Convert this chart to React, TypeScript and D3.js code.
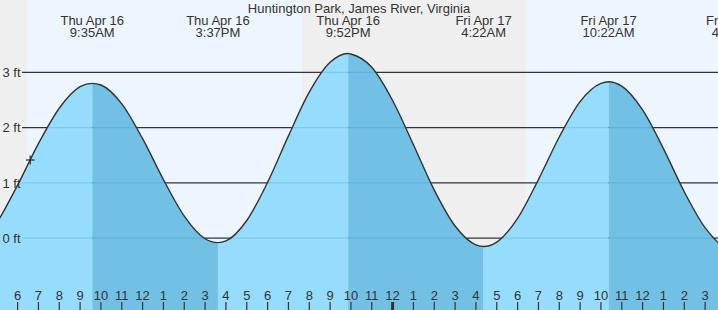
import React from "react";
import * as d3 from "d3";

// Tide curve samples: hours since midnight Thu Apr 16, heights in ft
const sampleHours = [4, 5, 6, 7, 8, 9, 9.583, 10, 11, 12, 13, 14, 15, 15.617, 16, 17, 18, 19, 20, 21, 21.867, 22, 23, 24, 25, 26, 27, 28, 28.367, 29, 30, 31, 32, 33, 34, 34.367, 35, 36, 37, 38, 39, 40, 40.4, 41];
const sampleHeights = [-0.16, 0.28, 0.96, 1.71, 2.35, 2.74, 2.8, 2.77, 2.43, 1.8, 1.06, 0.4, -0.01, -0.08, -0.05, 0.32, 1.01, 1.85, 2.64, 3.18, 3.34, 3.33, 3.09, 2.49, 1.69, 0.87, 0.22, -0.12, -0.15, -0.07, 0.36, 1.06, 1.83, 2.47, 2.8, 2.83, 2.75, 2.32, 1.62, 0.84, 0.19, -0.17, -0.2, -0.15];

// High / low tide extremes
const extremeHours = [9.583, 15.617, 21.867, 28.367, 34.367, 40.4];
const extremeTypes = ["high", "low", "high", "low", "high", "low"];
const extremeDays = ["Thu Apr 16", "Thu Apr 16", "Thu Apr 16", "Fri Apr 17", "Fri Apr 17", "Fri Apr 17"];
const extremeTimes = ["9:35AM", "3:37PM", "9:52PM", "4:22AM", "10:22AM", "4:24PM"];

// Daylight periods (hours since midnight Thu)
const dayStarts = [6.44, 30.39];
const dayEnds = [19.64, 43.6];

// Axis ticks
const hourTicks = [6, 7, 8, 9, 10, 11, 12, 13, 14, 15, 16, 17, 18, 19, 20, 21, 22, 23, 24, 25, 26, 27, 28, 29, 30, 31, 32, 33, 34, 35, 36, 37, 38, 39];
const hourLabels = ["6", "7", "8", "9", "10", "11", "12", "1", "2", "3", "4", "5", "6", "7", "8", "9", "10", "11", "12", "1", "2", "3", "4", "5", "6", "7", "8", "9", "10", "11", "12", "1", "2", "3"];
const ftTicks = [0, 1, 2, 3];
const ftLabels = ["0 ft", "1 ft", "2 ft", "3 ft"];

const title = "Huntington Park, James River, Virginia";

const W = 718;
const H = 310;

export default function App() {
  const x = d3.scaleLinear().domain([6, 39]).range([17.6, 17.6 + 33 * (500 / 24)]);
  const y = d3.scaleLinear().domain([0, 3]).range([238.2, 72.3]);
  const pts: [number, number][] = sampleHours.map((h, i) => [h, sampleHeights[i]]);
  const area = d3
    .area<[number, number]>()
    .x((d) => x(d[0]))
    .y0(H)
    .y1((d) => y(d[1]))
    .curve(d3.curveMonotoneX)(pts) as string;
  const line = d3
    .line<[number, number]>()
    .x((d) => x(d[0]))
    .y((d) => y(d[1]))
    .curve(d3.curveMonotoneX)(pts) as string;

  // segments between extremes: falling (high->low) dark, rising light
  const bounds = [sampleHours[0], ...extremeHours, sampleHours[sampleHours.length - 1]];
  const segs = bounds.slice(0, -1).map((b, i) => {
    const prevType = i === 0 ? "low" : extremeTypes[i - 1];
    return { t0: b, t1: bounds[i + 1], falling: prevType === "high" };
  });

  const font = "'Liberation Sans', Arial, sans-serif";
  const textColor = "#333";

  return (
    <svg
      width={W}
      height={H}
      style={{ position: "absolute", left: 0, top: 0, display: "block" }}
      fontFamily={font}
    >
      <defs>
        <clipPath id="tideClip">
          <path d={area} />
        </clipPath>
      </defs>
      <rect x={0} y={0} width={W} height={H} fill="#efefef" />
      {dayStarts.map((s, i) => (
        <rect key={"day" + i} x={x(s)} y={0} width={x(dayEnds[i]) - x(s)} height={H} fill="#edf6fe" />
      ))}
      {ftTicks.map((f) => (
        <line key={"g" + f} x1={22} x2={W} y1={y(f)} y2={y(f)} stroke="#333" strokeWidth={1.3} />
      ))}
      <g clipPath="url(#tideClip)">
        {segs.map((s, i) => (
          <rect
            key={"s" + i}
            x={x(s.t0)}
            y={0}
            width={x(s.t1) - x(s.t0)}
            height={H}
            fill={s.falling ? "#72c1e5" : "#96dcfd"}
          />
        ))}
        {ftTicks.map((f) => (
          <line key={"gi" + f} x1={22} x2={W} y1={y(f)} y2={y(f)} stroke="rgba(30,120,180,0.2)" strokeWidth={1.3} />
        ))}
      </g>
      <path d={line} fill="none" stroke="#333" strokeWidth={1.4} />
      {/* current time marker */}
      <g stroke="#333" strokeWidth={1.3}>
        <line x1={26} x2={34.5} y1={160} y2={160} />
        <line x1={30.2} x2={30.2} y1={155.5} y2={164.5} />
      </g>
      {ftTicks.map((f, i) => (
        <text key={"fl" + f} x={2.5} y={y(f) + 4.6} fontSize={13} fill={textColor}>
          {ftLabels[i]}
        </text>
      ))}
      {hourTicks.map((h, i) => (
        <g key={"t" + i}>
          <line
            x1={x(h)}
            x2={x(h)}
            y1={302}
            y2={H}
            stroke="#333"
            strokeWidth={h % 24 === 0 ? 3 : 1.2}
          />
          <text x={x(h)} y={300} fontSize={13} fill={textColor} textAnchor="middle">
            {hourLabels[i]}
          </text>
        </g>
      ))}
      <text x={W / 2} y={12.5} fontSize={13} fill={textColor} textAnchor="middle">
        {title}
      </text>
      {extremeHours.map((h, i) => (
        <text key={"e" + i} x={x(h)} fontSize={13} fill={textColor} textAnchor="middle">
          <tspan x={x(h)} y={24.5}>
            {extremeDays[i]}
          </tspan>
          <tspan x={x(h)} y={36.5}>
            {extremeTimes[i]}
          </tspan>
        </text>
      ))}
    </svg>
  );
}
